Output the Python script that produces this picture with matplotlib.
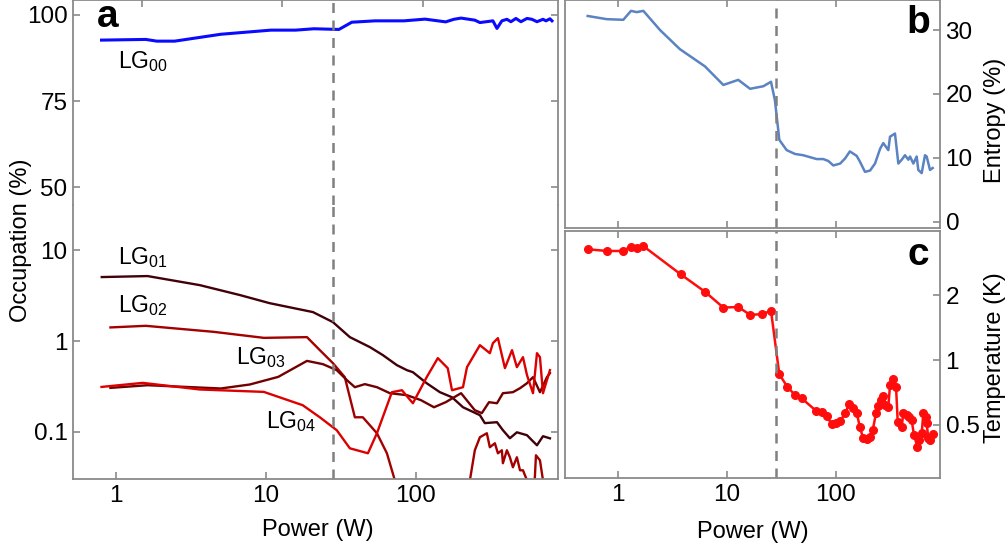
import matplotlib
matplotlib.use('Agg')
import matplotlib.pyplot as plt
from matplotlib.ticker import NullLocator

plt.rcParams['font.family'] = ['Liberation Sans', 'DejaVu Sans']
plt.rcParams['mathtext.fontset'] = 'custom'
plt.rcParams['mathtext.rm'] = 'Liberation Sans'
plt.rcParams['mathtext.default'] = 'regular'

# ─── Data ─────────────────────────────────────────────────────────────────────
# panel a: mode occupations (%) vs power (W)
p_lg00 = [0.804, 1.585, 1.877, 2.47, 5.01, 10.8, 15.8, 20.9, 30.7, 37.4, 53.3, 70.3,
          83.2, 115, 158, 179, 200, 247, 267, 326, 347, 374, 404, 430, 464, 501,
          550, 593, 641, 703, 736, 782, 807]
lg00 = [92.7, 92.9, 92.4, 92.4, 94.4, 95.6, 95.6, 96.0, 95.8, 97.9, 98.3, 98.3,
        98.3, 98.8, 98.0, 98.75, 99.1, 98.5, 97.8, 98.3, 96.1, 98.3, 98.75, 98.05, 99.0, 98.05,
        99.0, 98.75, 98.05, 98.75, 98.3, 98.9, 98.3]

p_lg01 = [0.807, 1.63, 3.63, 6.71, 10.6, 20.6, 28.0, 36.3, 49.4, 60.3, 74.7, 87.1,
          95.5, 118, 144.5, 174, 206, 267, 288, 347, 380, 423, 471, 550, 593, 641, 703, 782]
lg01 = [5.08, 5.21, 4.14, 3.22, 2.62, 2.09, 1.62, 1.107, 0.859, 0.701, 0.544, 0.479,
        0.455, 0.344, 0.274, 0.241, 0.187, 0.153, 0.125, 0.128, 0.1045, 0.0852, 0.099,
        0.092, 0.081, 0.0713, 0.0897, 0.085]

p_lg02 = [0.922, 1.585, 4.50, 9.70, 18.8, 22.9, 28.0, 33.6, 39.2, 44.3, 55.0, 64.1,
          72.4, 78.2, 212, 229, 247, 267, 297, 311, 336, 352, 374, 380, 404, 423, 443,
          471, 494, 517, 550, 575, 612, 631, 671, 703, 724]
lg02 = [1.416, 1.475, 1.266, 1.087, 1.107, 0.796, 0.572, 0.401, 0.145, 0.145, 0.0967, 0.0582,
        0.0293, 0.02, 0.02, 0.0293, 0.0628, 0.0874, 0.0967, 0.0678, 0.075, 0.0582, 0.0628,
        0.0452, 0.0628, 0.0526, 0.0408, 0.0526, 0.0378, 0.0378, 0.0293, 0.02, 0.02, 0.0553,
        0.0487, 0.0293, 0.02]

p_lg03 = [0.922, 1.63, 5.01, 7.82, 12.1, 18.8, 24.0, 29.7, 34.7, 39.2, 45.7, 55.0, 67.1,
          87.1, 108, 132, 158, 200, 247, 275, 307, 347, 380, 443, 494, 550, 603, 671, 747, 782]
lg03 = [0.3056, 0.327, 0.301, 0.333, 0.404, 0.606, 0.558, 0.479, 0.372, 0.311, 0.336, 0.311,
        0.267, 0.254, 0.224, 0.187, 0.2126, 0.267, 0.1735, 0.161, 0.2126, 0.207, 0.267, 0.274,
        0.303, 0.344, 0.401, 0.274, 0.401, 0.444]

p_lg04 = [0.804, 1.513, 3.63, 9.70, 17.6, 22.9, 29.7, 36.3, 47.9, 55.0, 69.2, 80.7, 95.5,
          118, 140, 163, 174, 206, 219, 267, 311, 326, 352, 392, 437, 471, 517, 550, 603,
          641, 671, 703, 782]
lg04 = [0.313, 0.347, 0.2934, 0.276, 0.197, 0.145, 0.1044, 0.066, 0.0582, 0.0967, 0.274,
        0.288, 0.207, 0.401, 0.65, 0.504, 0.288, 0.311, 0.517, 0.903, 0.737, 0.95, 1.079,
        0.504, 0.796, 0.517, 0.666, 0.422, 0.267, 0.737, 0.666, 0.267, 0.479]

# panel b: entropy (%)
p_ent = [0.523, 0.782, 1.112, 1.309, 1.477, 1.70, 2.42, 3.69, 6.28, 9.25, 12.7, 16.3, 21.6,
         25.4, 27.6, 30.3, 35.4, 42.2, 50.3, 66.8, 76.9, 85.5, 95.1, 110, 122, 135, 156, 167,
         186, 207, 230, 256, 274, 305, 316, 351, 377, 405, 434, 466, 483, 518, 556, 575, 618,
         663, 687, 737, 780]
entropy = [32.2, 31.7, 31.6, 33.0, 32.8, 33.0, 30.0, 27.0, 24.3, 21.4, 22.2, 20.8, 21.2,
           21.9, 19.0, 12.8, 11.2, 10.6, 10.4, 9.8, 9.8, 9.5, 8.8, 9.1, 9.9, 11.0, 10.3, 9.4,
           7.8, 8.0, 9.1, 11.4, 12.3, 11.2, 13.3, 13.8, 9.1, 9.7, 10.4, 9.7, 10.2, 9.1, 10.2,
           8.1, 7.6, 10.4, 10.2, 8.1, 8.4]

# panel c: temperature (K)
p_temp = [0.523, 0.782, 1.097, 1.30, 1.50, 1.70, 3.77, 6.28, 9.25, 12.7, 16.3, 20.9, 25.4,
          30.3, 35.9, 42.2, 48.7, 65.9, 74.3, 82.6, 91.8, 101, 110, 122, 133, 145, 156, 167,
          179, 193, 207, 219, 235, 247, 259, 271, 284, 305, 316, 339, 359, 372, 405, 419,
          450, 475, 500, 525, 564, 588, 618, 640, 673, 687, 711, 737, 780]
temp = [3.26, 3.20, 3.20, 3.35, 3.31, 3.37, 2.49, 2.07, 1.75, 1.76, 1.62, 1.63, 1.69,
        0.858, 0.752, 0.688, 0.664, 0.582, 0.574, 0.550, 0.505, 0.513, 0.522, 0.566, 0.623,
        0.597, 0.570, 0.488, 0.434, 0.429, 0.442, 0.474, 0.566, 0.612, 0.653, 0.681, 0.619,
        0.608, 0.766, 0.814, 0.752, 0.518, 0.491, 0.570, 0.556, 0.546, 0.527, 0.449, 0.397,
        0.426, 0.458, 0.566, 0.546, 0.509, 0.434, 0.426, 0.454]

P_THRESHOLD = 28.0
x_ticks = [1, 10, 100]
top_ticks_a = [1.49, 12.9, 112]   # odd tick marks on top frame of panel a

# ─── Figure / axes (positions in pixels of the 1008x550 canvas) ───────────────
W, H = 1008, 550
fig = plt.figure(figsize=(W / 100, H / 100), dpi=100)


def box(x0, y0, x1, y1):
    return [x0 / W, 1 - y1 / H, (x1 - x0) / W, (y1 - y0) / H]


def fig_text(x, y, s, **kw):
    fig.text(x / W, 1 - y / H, s, **kw)


ax_top = fig.add_axes(box(73, 0, 558, 205))
ax_bot = fig.add_axes(box(73, 205, 558, 479))
ax_b = fig.add_axes(box(565, 0, 940, 228))
ax_c = fig.add_axes(box(565, 231, 940, 478))

FRAME = '#8a8a8a'
DASH = '#808080'
TICK_FS = 17.5
LABEL_FS = 17


def style(ax):
    for s in ax.spines.values():
        s.set_color(FRAME)
        s.set_linewidth(1.3)
    ax.tick_params(which='both', direction='in', color=FRAME, length=5, width=1.2,
                   labelsize=TICK_FS, pad=4)
    ax.xaxis.set_minor_locator(NullLocator())
    ax.yaxis.set_minor_locator(NullLocator())


# ── panel a, top (linear) ─────────────────────────────────────────────────────
ax_top.set_xscale('log')
ax_top.plot(p_lg00, lg00, color='#0a0aff', lw=2.2)
ax_top.axvline(P_THRESHOLD, color=DASH, ls=(0, (4, 3)), lw=1.8)
ax_top.set_xlim(0.519, 885)
ax_top.set_ylim(44.77, 104.36)
style(ax_top)
ax_top.spines['bottom'].set_visible(False)
ax_top.set_yticks([50, 75, 100])
ax_top.set_yticklabels(['50', '75', '100'])
ax_top.set_xticks(top_ticks_a)
ax_top.xaxis.set_minor_locator(NullLocator())
ax_top.tick_params(axis='x', top=True, bottom=False, labelbottom=False, labeltop=False)
ax_top.tick_params(axis='y', left=True, right=True)

# ── panel a, bottom (log) ─────────────────────────────────────────────────────
ax_bot.set_xscale('log')
ax_bot.set_yscale('log')
ax_bot.plot(p_lg01, lg01, color='#420008', lw=1.7)
ax_bot.plot(p_lg02, lg02, color='#a30000', lw=1.7)
ax_bot.plot(p_lg03, lg03, color='#720000', lw=1.7)
ax_bot.plot(p_lg04, lg04, color='#dc0000', lw=1.7)
ax_bot.axvline(P_THRESHOLD, color=DASH, ls=(0, (4, 3)), lw=1.8)
ax_bot.set_xlim(0.519, 885)
ax_bot.set_ylim(0.0303, 31.6)
style(ax_bot)
ax_bot.spines['top'].set_visible(False)
ax_bot.set_xticks(x_ticks)
ax_bot.set_xticklabels(['1', '10', '100'])
ax_bot.set_yticks([0.1, 1, 10])
ax_bot.set_yticklabels(['0.1', '1', '10'])
ax_bot.xaxis.set_minor_locator(NullLocator())
ax_bot.yaxis.set_minor_locator(NullLocator())
ax_bot.tick_params(axis='y', left=True, right=True)
ax_bot.tick_params(axis='x', top=False, bottom=True)

# ── panel b ───────────────────────────────────────────────────────────────────
ax_b.set_xscale('log')
ax_b.plot(p_ent, entropy, color='#5b82c2', lw=1.8)
ax_b.axvline(P_THRESHOLD, color=DASH, ls=(0, (4, 3)), lw=1.8)
ax_b.set_xlim(0.3234, 911)
ax_b.set_ylim(-0.99, 34.7)
style(ax_b)
ax_b.set_xticks(x_ticks)
ax_b.xaxis.set_minor_locator(NullLocator())
ax_b.set_yticks([0, 10, 20, 30])
ax_b.tick_params(axis='x', top=True, bottom=True, labelbottom=False)
ax_b.tick_params(axis='y', left=False, labelleft=False, right=True, labelright=True)

# ── panel c ───────────────────────────────────────────────────────────────────
ax_c.set_xscale('log')
ax_c.set_yscale('log')
ax_c.plot(p_temp, temp, color='#ff0d0d', lw=1.8, marker='o', ms=5.5)
ax_c.axvline(P_THRESHOLD, color=DASH, ls=(0, (4, 3)), lw=1.8)
ax_c.set_xlim(0.3234, 911)
ax_c.set_ylim(0.284, 3.96)
style(ax_c)
ax_c.set_xticks(x_ticks)
ax_c.set_xticklabels(['1', '10', '100'])
ax_c.set_yticks([0.5, 1, 2])
ax_c.set_yticklabels(['0.5', '1', '2'])
ax_c.xaxis.set_minor_locator(NullLocator())
ax_c.yaxis.set_minor_locator(NullLocator())
ax_c.tick_params(axis='x', top=True, bottom=True)
ax_c.tick_params(axis='y', left=False, labelleft=False, right=True, labelright=True)

# ── Texts ─────────────────────────────────────────────────────────────────────
fig_text(21, 240, 'Occupation (%)', rotation=90, ha='center', va='center', fontsize=LABEL_FS)
fig_text(318, 530, 'Power (W)', ha='center', va='center', fontsize=LABEL_FS)
fig_text(753, 532, 'Power (W)', ha='center', va='center', fontsize=LABEL_FS)
fig_text(995, 120, 'Entropy (%)', rotation=90, ha='center', va='center', fontsize=LABEL_FS)
fig_text(995, 358, 'Temperature (K)', rotation=90, ha='center', va='center', fontsize=LABEL_FS)

fig_text(108, 17, 'a', ha='center', va='center', fontsize=28, fontweight='bold')
fig_text(918, 23, 'b', ha='center', va='center', fontsize=28, fontweight='bold')
fig_text(918, 255, 'c', ha='center', va='center', fontsize=28, fontweight='bold')

fig_text(118, 62, r'LG$_{00}$', ha='left', va='center', fontsize=16.5)
fig_text(118, 258, r'LG$_{01}$', ha='left', va='center', fontsize=16.5)
fig_text(118, 306, r'LG$_{02}$', ha='left', va='center', fontsize=16.5)
fig_text(236, 358, r'LG$_{03}$', ha='left', va='center', fontsize=16.5)
fig_text(266, 422, r'LG$_{04}$', ha='left', va='center', fontsize=16.5)

fig.savefig('out.png', dpi=100, facecolor='white')
